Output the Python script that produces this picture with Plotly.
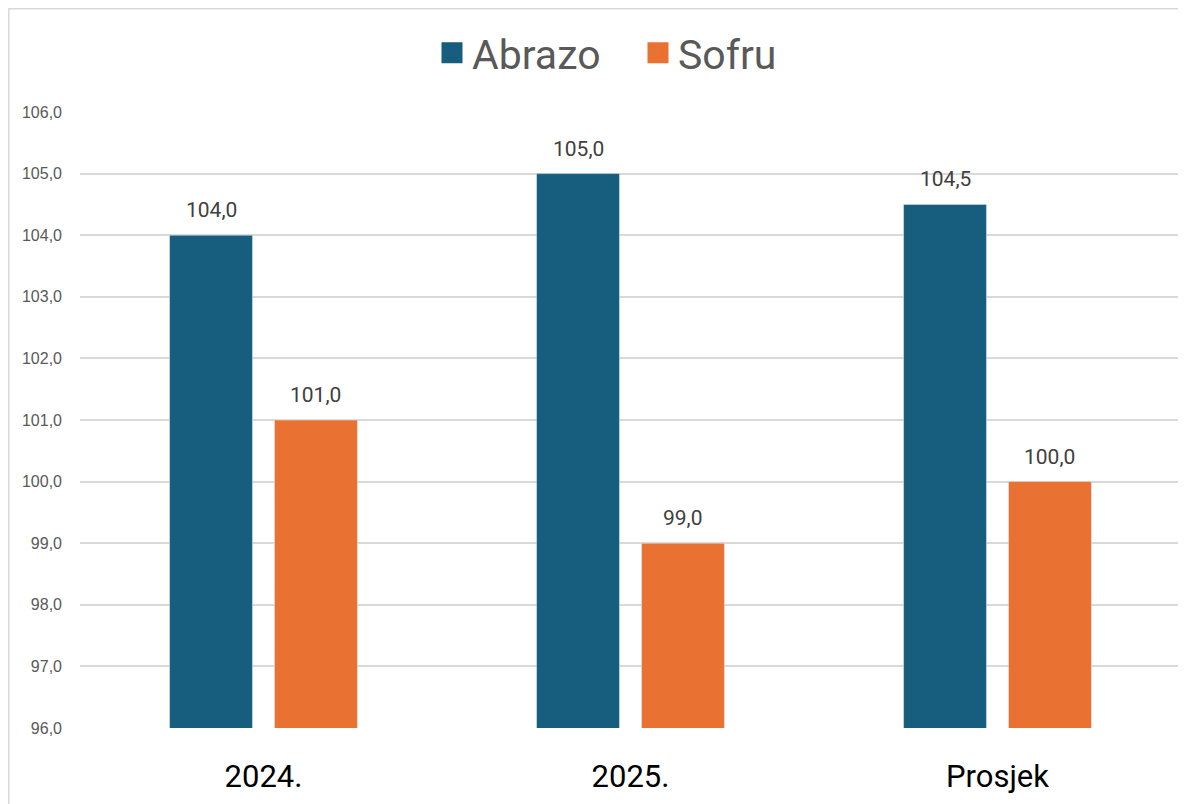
import plotly.graph_objects as go

categories = ["2024.", "2025.", "Prosjek"]
abrazo = [104.0, 105.0, 104.5]
sofru = [101.0, 99.0, 100.0]
y_ticks = [96, 97, 98, 99, 100, 101, 102, 103, 104, 105, 106]

OFF = 8  # page body margin
W, H = 1186 - OFF, 804 - OFF
x0, x1 = 80 - OFF, 1181 - OFF
y_top, y_bot = 112 - OFF, 728 - OFF
BARGAP, GROUPGAP = 0.428, 0.21

colors = {"Abrazo": "#175E7E", "Sofru": "#E97132"}
series = [("Abrazo", abrazo), ("Sofru", sofru)]

fig = go.Figure()
for name, vals in series:
    fig.add_trace(go.Bar(
        name=name, x=categories, y=vals,
        marker=dict(color=colors[name]),
        showlegend=False, legendgroup=name,
    ))
for name, _ in series:
    fig.add_trace(go.Scatter(
        name=name, x=[categories[0]], y=[None], mode="markers",
        marker=dict(symbol="square", size=16, color=colors[name],
                    line=dict(color=colors[name], width=5)),
        legendgroup=name, showlegend=True, hoverinfo="skip",
    ))

# data labels above each bar (category axis index + pixel offset of the bar within its group)
cat_px = (x1 - x0) / len(categories)
slot_px = (1 - BARGAP) * cat_px / len(series)
annotations = []
for i, (name, vals) in enumerate(series):
    shift = (i - (len(series) - 1) / 2) * slot_px
    for j, v in enumerate(vals):
        annotations.append(dict(
            x=j, y=v, xref="x", yref="y", text=f"{v:.1f}".replace(".", ","),
            showarrow=False, xshift=shift, yshift=25, yanchor="middle",
            font=dict(family="Roboto", size=21, color="#404040"),
        ))

fig.update_layout(
    width=W, height=H,
    margin=dict(l=0, r=0, t=0, b=0),
    paper_bgcolor="white", plot_bgcolor="white",
    separators=", ",
    barmode="group", bargap=BARGAP, bargroupgap=GROUPGAP,
    showlegend=True,
    legend=dict(
        orientation="h", x=(454 - OFF - 22) / W, xanchor="left",
        y=1 - (53 - OFF) / H, yanchor="middle",
        font=dict(family="Roboto", size=41, color="#595959"),
        itemsizing="trace", entrywidth=161, entrywidthmode="pixels",
        bgcolor="rgba(0,0,0,0)",
    ),
    xaxis=dict(
        type="category", categoryorder="array", categoryarray=categories,
        range=[-0.5, len(categories) - 0.5],
        domain=[x0 / W, x1 / W],
        showgrid=False, showline=False, zeroline=False, ticks="",
        tickfont=dict(family="Roboto", size=31, color="#000000"),
        ticklabelstandoff=27, automargin=False,
    ),
    yaxis=dict(
        domain=[1 - y_bot / H, 1 - y_top / H],
        range=[96, 106], tickvals=y_ticks, tickformat=".1f",
        showgrid=True, gridcolor="#d9d9d9", gridwidth=1.5,
        zeroline=False, showline=False, ticks="",
        tickfont=dict(family="Liberation Sans", size=16, color="#595959"),
        ticklabelstandoff=17, automargin=False,
    ),
    annotations=annotations,
    shapes=[
        dict(type="line", xref="paper", yref="paper", x0=0, x1=1.0,
             y0=1 - 0.5 / H, y1=1 - 0.5 / H, line=dict(color="#d9d9d9", width=2)),
        dict(type="line", xref="paper", yref="paper", x0=0.5 / W, x1=0.5 / W,
             y0=0, y1=1, line=dict(color="#d9d9d9", width=2)),
    ],
)

fig.write_html("out.html")
